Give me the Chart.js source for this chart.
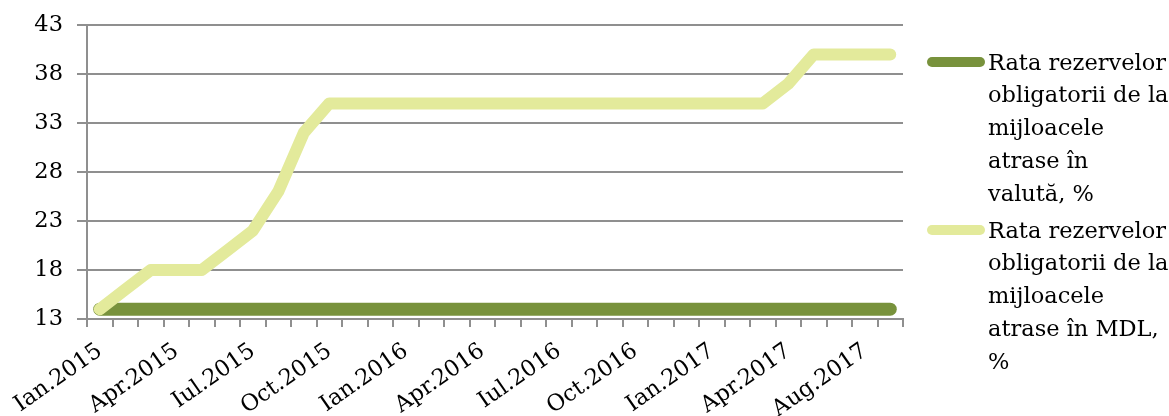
<!DOCTYPE html>
<html>
<head>
<meta charset="utf-8">
<script src="https://cdn.jsdelivr.net/npm/chart.js@4.4.1/dist/chart.umd.min.js"></script>
<style>
  html, body { margin: 0; padding: 0; background: #fff; }
  #wrap { position: relative; width: 1169px; height: 416px; }
  canvas { position: absolute; left: 0; top: 0; }
  .leg { position: absolute; left: 988px; font-family: "DejaVu Serif", serif; font-size: 22.5px; line-height: 32.8px; color: #000; white-space: nowrap; }
  .sw { position: absolute; left: 927px; width: 58px; height: 10px; border-radius: 5px; }
</style>
</head>
<body>
<div id="wrap">
  <canvas id="c" width="1169" height="416"></canvas>
  <div class="sw" style="top:57px; background:#78923c;"></div>
  <div class="leg" style="top:45.6px;">Rata rezervelor<br>obligatorii de la<br>mijloacele<br>atrase în<br>valută, %</div>
  <div class="sw" style="top:225px; background:#e3ea9b;"></div>
  <div class="leg" style="top:213.6px;">Rata rezervelor<br>obligatorii de la<br>mijloacele<br>atrase în MDL,<br>%</div>
</div>
<script>
const categories = [
  "Ian.2015","Feb.2015","Mar.2015","Apr.2015","Mai.2015","Iun.2015","Iul.2015","Aug.2015","Sep.2015","Oct.2015","Noi.2015","Dec.2015",
  "Ian.2016","Feb.2016","Mar.2016","Apr.2016","Mai.2016","Iun.2016","Iul.2016","Aug.2016","Sep.2016","Oct.2016","Noi.2016","Dec.2016",
  "Ian.2017","Feb.2017","Mar.2017","Apr.2017","Mai.2017","Iun.2017","Aug.2017","Sep.2017"
];
const seriesNames = [
  "Rata rezervelor obligatorii de la mijloacele atrase în valută, %",
  "Rata rezervelor obligatorii de la mijloacele atrase în MDL, %"
];
const valutaValues = [
  14,14,14,14,14,14,14,14,14,14,14,14,
  14,14,14,14,14,14,14,14,14,14,14,14,
  14,14,14,14,14,14,14,14
];
const mdlValues = [
  14,16,18,18,18,20,22,26,32,35,35,35,
  35,35,35,35,35,35,35,35,35,35,35,35,
  35,35,35,37,40,40,40,40
];
const yTicks = { min: 13, max: 43, step: 5 };
const labelEvery = 3;

const font = { family: "DejaVu Serif", size: 22.5 };
const gridColor = "#8f8f8f";

new Chart(document.getElementById("c"), {
  type: "line",
  data: {
    labels: categories,
    datasets: [
      { label: seriesNames[0], data: valutaValues, borderColor: "#78923c", backgroundColor: "#78923c",
        borderWidth: 13, borderCapStyle: "round", borderJoinStyle: "round", pointRadius: 0, order: 1, tension: 0 },
      { label: seriesNames[1], data: mdlValues, borderColor: "#e3ea9b", backgroundColor: "#e3ea9b",
        borderWidth: 12, borderCapStyle: "round", borderJoinStyle: "round", pointRadius: 0, order: 0, tension: 0 }
    ]
  },
  options: {
    responsive: false,
    animation: false,
    events: [],
    layout: { padding: { left: 0, right: 266, top: 25, bottom: 0 } },
    plugins: { legend: { display: false }, tooltip: { enabled: false } },
    scales: {
      x: {
        type: "category",
        offset: true,
        grid: { display: true, drawOnChartArea: false, offset: true, drawTicks: true, tickLength: 8, color: gridColor, lineWidth: 2 },
        border: { display: true, color: gridColor, width: 2 },
        ticks: {
          autoSkip: false, maxRotation: 35, minRotation: 35, padding: 11, color: "#000", font: font,
          callback: function(v, i) { return i % labelEvery === 0 ? categories[i] : ""; }
        },
        afterFit: s => { s.height = 97; s.paddingLeft = 0; s.paddingRight = 0; }
      },
      y: {
        min: yTicks.min, max: yTicks.max,
        grid: { display: true, drawOnChartArea: true, drawTicks: true, tickLength: 10, color: gridColor, lineWidth: 2 },
        border: { display: true, color: gridColor, width: 2 },
        ticks: { stepSize: yTicks.step, padding: 14, color: "#000", font: font },
        afterFit: s => { s.width = 87; s.paddingTop = 0; s.paddingBottom = 0; }
      }
    }
  }
});
</script>
</body>
</html>
